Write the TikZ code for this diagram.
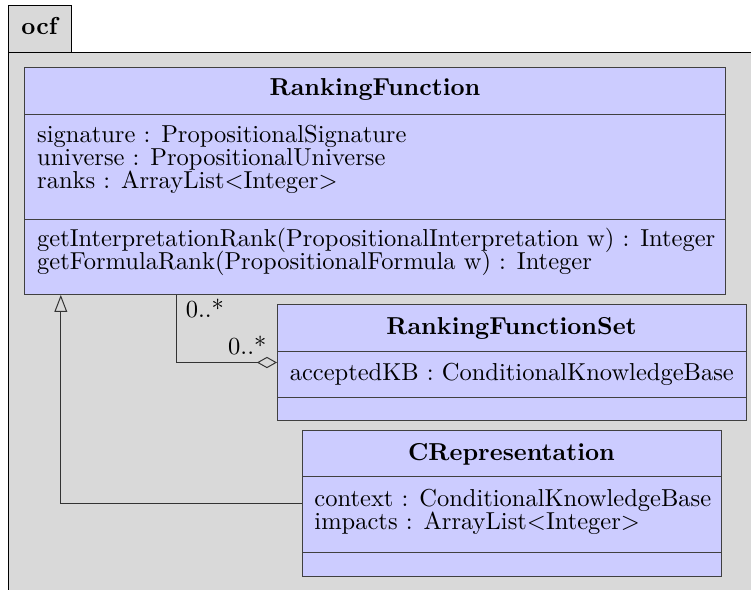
\documentclass[tikz,border=0pt]{standalone}
\usetikzlibrary{arrows.meta}
\tikzset{
  pkgbox/.style={draw=black, fill=gray!30},
  umlclass/.style={draw=black!75, fill=blue!20, anchor=north west, inner sep=0pt, outer sep=0pt},
  divider/.style={draw=black!75},
  txt/.style={anchor=base west, inner sep=0pt, font=\normalsize},
  ttl/.style={anchor=base, inner sep=0pt, font=\normalsize\bfseries},
  conn/.style={draw=black!80},
}
\begin{document}
\begin{tikzpicture}[x=0.408pt,y=-0.408pt]
\useasboundingbox (0,0) rectangle (751,589);
\clip (0,0) rectangle (751,589);
% package
\draw[pkgbox] (8,52) rectangle (780,620);
\draw[pkgbox] (8,5) rectangle (71.3,52);
\node[txt, font=\normalsize\bfseries] (pkgname) at (21,34.3) {ocf};

% RankingFunction
\node[umlclass, minimum width=286.0pt, minimum height=93.0pt] (rf) at (24.5,67) {};
\path (0,114) coordinate (rfd1) (0,219.3) coordinate (rfd2);
\draw[divider] (rf.west |- rfd1) -- (rf.east |- rfd1);
\draw[divider] (rf.west |- rfd2) -- (rf.east |- rfd2);
\node[ttl] (rft) at (375,95.7) {RankingFunction};
\node[txt] (rfa1) at (36.7,142.3) {signature : PropositionalSignature};
\node[txt] (rfa2) at (36.7,165.3) {universe : PropositionalUniverse};
\node[txt] (rfa3) at (36.7,188.3) {ranks : ArrayList$<$Integer$>$};
\node[txt] (rfm1) at (36.7,246.7) {getInterpretationRank(PropositionalInterpretation w) : Integer};
\node[txt] (rfm2) at (36.7,269.7) {getFormulaRank(PropositionalFormula w) : Integer};

% RankingFunctionSet
\node[umlclass, minimum width=191.35pt, minimum height=47.33pt] (rfs) at (277,304.5) {};
\path (0,351) coordinate (rfsd1) (0,397.3) coordinate (rfsd2);
\draw[divider] (rfs.west |- rfsd1) -- (rfs.east |- rfsd1);
\draw[divider] (rfs.west |- rfsd2) -- (rfs.east |- rfsd2);
\node[ttl] (rfst) at (511.5,334) {RankingFunctionSet};
\node[txt] (rfsa1) at (289.3,380) {acceptedKB : ConditionalKnowledgeBase};

% CRepresentation
\node[umlclass, minimum width=170.95pt, minimum height=59.57pt] (cr) at (302,430) {};
\path (0,476.7) coordinate (crd1) (0,552.7) coordinate (crd2);
\draw[divider] (cr.west |- crd1) -- (cr.east |- crd1);
\draw[divider] (cr.west |- crd2) -- (cr.east |- crd2);
\node[ttl] (crt) at (511.5,460) {CRepresentation};
\node[txt] (cra1) at (314,506) {context : ConditionalKnowledgeBase};
\node[txt] (cra2) at (314,529.3) {impacts : ArrayList$<$Integer$>$};

% aggregation
\coordinate (aggx) at (176.7,0);
\draw[conn, -{Diamond[open, length=8.2pt, width=4.6pt]}] (rf.south -| aggx) |- (rfs.west);
\node[txt] (m1) at (185.3,317.7) {0..*};
\node[txt] (m2) at (227.7,354) {0..*};

% generalization
\coordinate (genx) at (60.8,0);
\draw[conn, -{Triangle[open, length=6.9pt, width=5.2pt]}] (cr.west) -| (rf.south -| genx);
\end{tikzpicture}
\end{document}
